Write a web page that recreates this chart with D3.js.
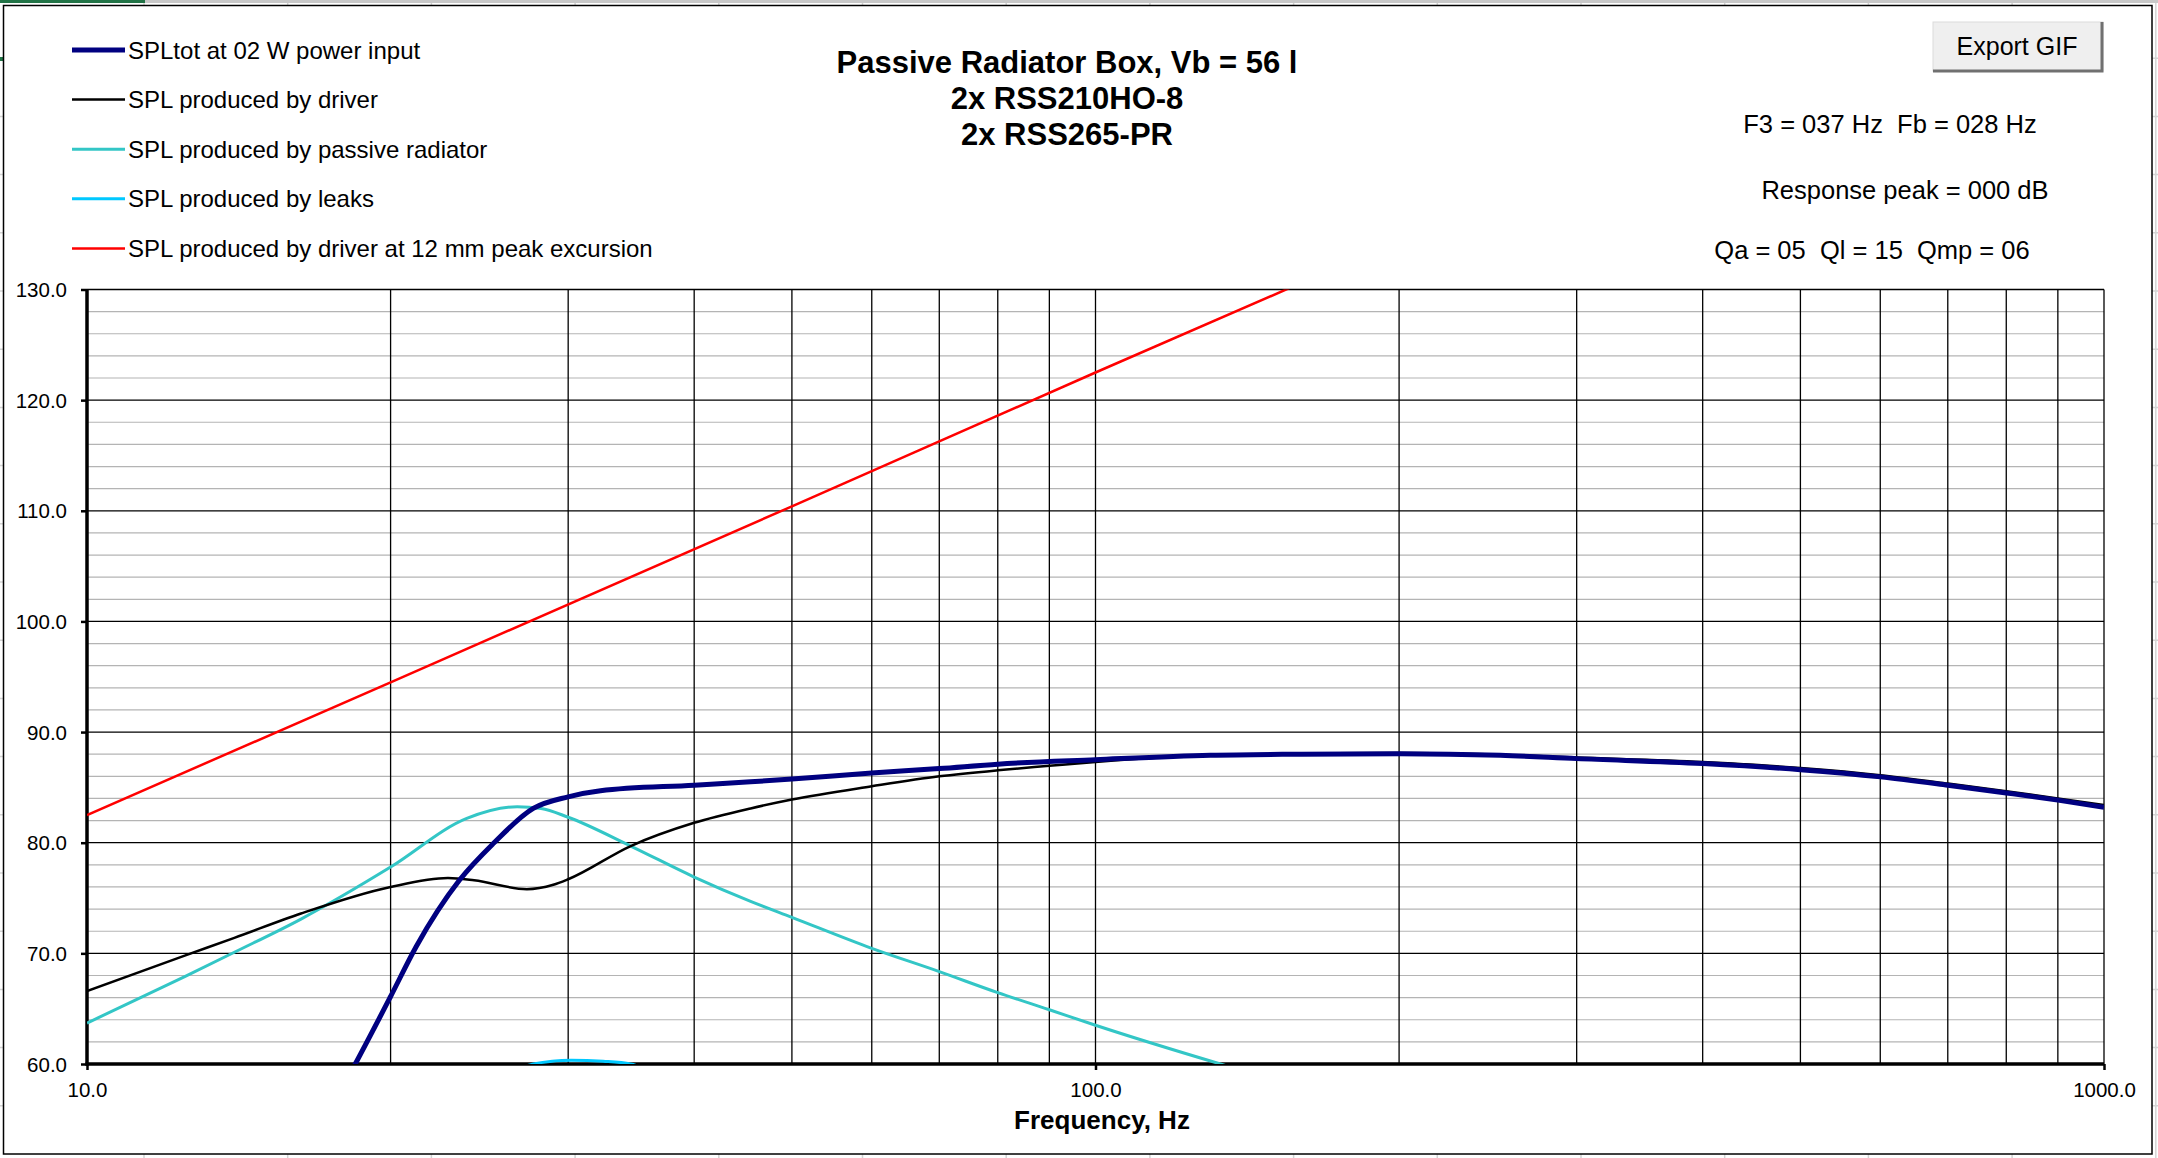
<!DOCTYPE html>
<html>
<head>
<meta charset="utf-8">
<script src="https://cdn.jsdelivr.net/npm/d3@7"></script>
<style>
  body { margin: 0; background: #fff; }
  text { font-family: "Liberation Sans", Arial, sans-serif; fill: #000; }
</style>
</head>
<body>
<div id="chart"></div>
<script>
// values, [frequency Hz, SPL dB]
const splTotal = [
    [18.2, 59.0], [18.45, 60.0], [20, 66.1], [21.2, 70.6], [23.4, 76.6], [25.3, 79.95],
    [27.7, 83.1], [30, 84.15], [32.3, 84.7], [40, 85.2], [45.5, 85.5], [50, 85.75],
    [60, 86.3], [70, 86.7], [80, 87.1], [100, 87.5], [130, 87.9], [160, 88.0], [200, 88.05],
    [252, 87.9], [300, 87.6], [400, 87.15], [500, 86.6], [600, 85.95], [700, 85.2],
    [800, 84.5], [900, 83.85], [1000, 83.2]
];
const splDriver = [
    [10, 66.6], [12.5, 69.8], [14, 71.4], [16.3, 73.6], [20, 76.0], [22.8, 76.8], [24.2, 76.6],
    [27.3, 75.8], [29, 76.2], [30, 76.7], [34.6, 79.7], [40, 81.8], [45.5, 83.1], [50, 83.9],
    [60, 85.1], [70, 86.0], [80, 86.55], [90, 86.95], [100, 87.3], [116, 87.7], [130, 87.9],
    [200, 88.1], [252, 87.95], [300, 87.7], [400, 87.3], [500, 86.75], [600, 86.1],
    [700, 85.35], [800, 84.65], [900, 84.0], [1000, 83.4]
];
const splRadiator = [
    [10, 63.7], [12.5, 67.9], [14, 70.1], [16.3, 73.1], [20, 77.8], [23.8, 82.2], [26.7, 83.25],
    [28.2, 83.1], [30, 82.3], [34.6, 79.7], [40, 76.9], [45.5, 74.7], [50, 73.25], [60, 70.45],
    [70, 68.35], [80, 66.45], [90, 64.9], [100, 63.5], [133, 60.0], [140, 59.4]
];
const splLeaks = [
    [25.5, 58.6], [27.7, 60.0], [30.2, 60.35], [32.5, 60.25], [34.6, 60.0], [37.5, 58.6]
];
const splExcursion = [
    [10, 82.5], [20, 94.5], [50, 110.4], [100, 122.5], [160, 130.6]
];

const legendLabels = [
    "SPLtot at 02 W power input",
    "SPL produced by driver",
    "SPL produced by passive radiator",
    "SPL produced by leaks",
    "SPL produced by driver at 12 mm peak excursion"
];
const titleLines = ["Passive Radiator Box, Vb = 56 l", "2x RSS210HO-8", "2x RSS265-PR"];
const infoLines = [
    "F3 = 037 Hz\u00a0\u00a0Fb = 028 Hz",
    "Response peak = 000 dB",
    "Qa = 05\u00a0\u00a0Ql = 15\u00a0\u00a0Qmp = 06"
];
const xLabels = [10, 100, 1000];
const xGrid = [20, 30, 40, 50, 60, 70, 80, 90, 100, 200, 300, 400, 500, 600, 700, 800, 900, 1000];
const yMajor = [60, 70, 80, 90, 100, 110, 120, 130];
const yMinor = d3.range(62, 130, 2).filter(v => v % 10 !== 0);

const width = 2158;
const height = 1158;
const plot = { left: 87, right: 2104, top: 289.5, bottom: 1064 };

const svg = d3.select("#chart").append("svg")
    .attr("width", width)
    .attr("height", height);

// spreadsheet background behind the chart object
const sheet = svg.append("g");
d3.range(1, 16).forEach(i => {
    const x = 144 + (i - 1) * 143.7;
    sheet.append("line").attr("x1", x).attr("x2", x).attr("y1", 0).attr("y2", height)
        .attr("stroke", "#d4d4d4").attr("stroke-width", 1.5);
});
d3.range(1, 20).forEach(i => {
    const y = i * 58.2;
    sheet.append("line").attr("x1", 0).attr("x2", width).attr("y1", y).attr("y2", y)
        .attr("stroke", "#d4d4d4").attr("stroke-width", 1.5);
});
sheet.append("rect").attr("x", 0).attr("y", 0).attr("width", width).attr("height", 3).attr("fill", "#c8c8c8");
sheet.append("rect").attr("x", 0).attr("y", 0).attr("width", 145).attr("height", 3).attr("fill", "#217346");
sheet.append("rect").attr("x", 0).attr("y", 57).attr("width", 4).attr("height", 4).attr("fill", "#217346");

// chart object
svg.append("rect")
    .attr("x", 3.5).attr("y", 5.5)
    .attr("width", 2152 - 3.5).attr("height", 1154 - 5.5)
    .attr("fill", "#fff")
    .attr("stroke", "#000")
    .attr("stroke-width", 1.5);

const x = d3.scaleLog().domain([10, 1000]).range([plot.left, plot.right]);
const y = d3.scaleLinear().domain([60, 130]).range([plot.bottom, plot.top]);

// grid
const grid = svg.append("g");
grid.selectAll(".minor").data(yMinor).enter().append("line")
    .attr("x1", plot.left).attr("x2", plot.right)
    .attr("y1", d => y(d)).attr("y2", d => y(d))
    .attr("stroke", "#b4b4b4").attr("stroke-width", 1.2);
grid.selectAll(".major").data(yMajor).enter().append("line")
    .attr("x1", plot.left).attr("x2", plot.right)
    .attr("y1", d => y(d)).attr("y2", d => y(d))
    .attr("stroke", "#000").attr("stroke-width", 1.3);
grid.selectAll(".vert").data(xGrid).enter().append("line")
    .attr("x1", d => x(d)).attr("x2", d => x(d))
    .attr("y1", plot.top).attr("y2", plot.bottom)
    .attr("stroke", "#000").attr("stroke-width", 1.3);

// axes
const yAxis = svg.append("g")
    .attr("transform", `translate(${plot.left},0)`)
    .call(d3.axisLeft(y).tickValues(yMajor).tickSize(6).tickPadding(14).tickFormat(d3.format(".1f")));
yAxis.select(".domain").attr("stroke-width", 3.5).attr("d", `M0,${plot.top}V${plot.bottom + 1.5}`);
yAxis.selectAll(".tick line").attr("stroke-width", 2.5);
yAxis.selectAll(".tick text").style("font-size", "20.5px").attr("dy", "0.35em");

const xAxis = svg.append("g")
    .attr("transform", `translate(0,${plot.bottom})`)
    .call(d3.axisBottom(x).tickValues(xLabels).tickSize(6).tickPadding(12).tickFormat(d3.format(".1f")));
xAxis.select(".domain").attr("stroke-width", 3.5).attr("d", `M${plot.left - 1.5},0H${plot.right}`);
xAxis.selectAll(".tick line").attr("stroke-width", 2.5);
xAxis.selectAll(".tick text").style("font-size", "20.5px");

svg.append("text")
    .attr("x", 1102).attr("y", 1129)
    .attr("text-anchor", "middle")
    .style("font-size", "26px").style("font-weight", "bold")
    .text("Frequency, Hz");

// series
svg.append("clipPath").attr("id", "plotClip").append("rect")
    .attr("x", plot.left).attr("y", plot.top)
    .attr("width", plot.right - plot.left).attr("height", plot.bottom - plot.top);

const line = d3.line()
    .x(d => x(d[0]))
    .y(d => y(d[1]))
    .curve(d3.curveMonotoneX);

const series = [
    { data: splExcursion, color: "#ff0000", width: 2.5 },
    { data: splLeaks, color: "#00c8ff", width: 3 },
    { data: splRadiator, color: "#33c6c6", width: 3 },
    { data: splDriver, color: "#000000", width: 2.5 },
    { data: splTotal, color: "#000080", width: 5 }
];

svg.append("g").attr("clip-path", "url(#plotClip)")
    .selectAll("path").data(series).enter().append("path")
    .attr("d", d => line(d.data))
    .attr("fill", "none")
    .attr("stroke", d => d.color)
    .attr("stroke-width", d => d.width)
    .attr("stroke-linejoin", "round");

// legend (same order as the spreadsheet: total first)
const legendColors = ["#000080", "#000000", "#33c6c6", "#00c8ff", "#ff0000"];
const legendWidths = [5, 2.5, 3, 3, 2.5];
const legend = svg.append("g");
legendLabels.forEach((label, i) => {
    const ly = 50 + i * 49.6;
    legend.append("line")
        .attr("x1", 72).attr("x2", 125)
        .attr("y1", ly).attr("y2", ly)
        .attr("stroke", legendColors[i])
        .attr("stroke-width", legendWidths[i]);
    legend.append("text")
        .attr("x", 128).attr("y", ly + 8.5)
        .style("font-size", "24px")
        .text(label);
});

// title
titleLines.forEach((t, i) => {
    svg.append("text")
        .attr("x", 1067).attr("y", 73 + i * 36)
        .attr("text-anchor", "middle")
        .style("font-size", "31px").style("font-weight", "bold")
        .text(t);
});

// info box on the right
const infoX = [1890, 1905, 1872];
const infoY = [133, 199, 259];
infoLines.forEach((t, i) => {
    svg.append("text")
        .attr("x", infoX[i]).attr("y", infoY[i])
        .attr("text-anchor", "middle")
        .style("font-size", "25.5px")
        .text(t);
});

// Export GIF button
const btn = svg.append("g");
btn.append("rect")
    .attr("x", 1933).attr("y", 22)
    .attr("width", 170).attr("height", 49)
    .attr("fill", "#efefef")
    .attr("stroke", "#dcdcdc").attr("stroke-width", 1);
btn.append("path")
    .attr("d", "M2102,22V71H1933")
    .attr("fill", "none")
    .attr("stroke", "#707070")
    .attr("stroke-width", 3);
btn.append("text")
    .attr("x", 2017).attr("y", 55)
    .attr("text-anchor", "middle")
    .style("font-size", "25px")
    .text("Export GIF");
</script>
</body>
</html>
